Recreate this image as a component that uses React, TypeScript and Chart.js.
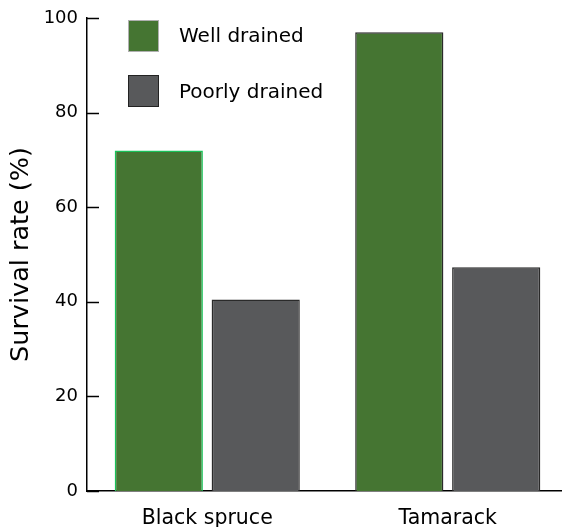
import React, { useEffect, useRef } from "react";
import { Chart, registerables } from "chart.js";
Chart.register(...registerables);

const categories = ["Black spruce", "Tamarack"];
const seriesLabels = ["Well drained", "Poorly drained"];
const wellDrained = [72, 97];
const poorlyDrained = [40.5, 47.3];
const yTickValues = [0, 20, 40, 60, 80, 100];

const FONT = "'DejaVu Sans', sans-serif";
const GREEN = "#457532";
const GRAY = "#58595b";

const insideTicks = {
  id: "insideTicks",
  afterDatasetsDraw(chart: any) {
    const y = chart.scales.y;
    const ctx = chart.ctx;
    const left = chart.chartArea.left;
    ctx.save();
    ctx.strokeStyle = "#000";
    ctx.lineWidth = 1.5;
    y.ticks.forEach((t: any) => {
      const py = Math.round(y.getPixelForValue(t.value)) + 0.5;
      ctx.beginPath();
      ctx.moveTo(left, py);
      ctx.lineTo(left + 12, py);
      ctx.stroke();
    });
    ctx.restore();
  },
};

const boxLegend = {
  id: "boxLegend",
  afterDraw(chart: any) {
    const ctx = chart.ctx;
    const { left, top } = chart.chartArea;
    const strokes = ["#b0b0b0", "#222"];
    ctx.save();
    chart.data.datasets.forEach((ds: any, i: number) => {
      const bx = left + 41;
      const by = top + 2 + i * 55;
      ctx.fillStyle = ds.backgroundColor;
      ctx.fillRect(bx, by, 30, 31);
      ctx.strokeStyle = strokes[i];
      ctx.lineWidth = 1;
      ctx.strokeRect(bx + 0.5, by + 0.5, 30, 31);
      ctx.fillStyle = "#000";
      ctx.font = `20px ${FONT}`;
      ctx.textBaseline = "middle";
      ctx.textAlign = "left";
      ctx.fillText(ds.label, bx + 51, by + 17 + i);
    });
    ctx.restore();
  },
};

export default function App() {
  const ref = useRef<HTMLCanvasElement>(null);
  useEffect(() => {
    const chart = new Chart(ref.current!, {
      type: "bar",
      data: {
        labels: categories,
        datasets: [
          {
            label: seriesLabels[0],
            data: wellDrained,
            backgroundColor: GREEN,
            borderColor: ["#19c35a", "#2a2a2a"],
            borderWidth: 1.5,
          },
          {
            label: seriesLabels[1],
            data: poorlyDrained,
            backgroundColor: GRAY,
            borderColor: "#2a2a2a",
            borderWidth: 1.5,
          },
        ],
      },
      options: {
        responsive: true,
        maintainAspectRatio: false,
        animation: false,
        layout: { padding: { top: 18, right: 0, bottom: 0, left: 0 } },
        plugins: { legend: { display: false }, tooltip: { enabled: false } },
        datasets: { bar: { categoryPercentage: 0.806, barPercentage: 0.91 } },
        scales: {
          x: {
            z: 1,
            grid: { display: false, drawTicks: false },
            border: { display: true, color: "#000", width: 1.5 },
            ticks: { color: "#000", font: { family: FONT, size: 20.5 }, padding: 15 },
            afterFit: (s: any) => { s.height = 36; },
          },
          y: {
            z: 1,
            min: 0,
            max: 100,
            grid: { display: false, drawTicks: false },
            border: { display: true, color: "#000", width: 1.5 },
            afterBuildTicks: (s: any) => { s.ticks = yTickValues.map((v) => ({ value: v })); },
            ticks: { color: "#000", font: { family: FONT, size: 18 }, padding: 9 },
            title: {
              display: true,
              text: "Survival rate (%)",
              color: "#000",
              font: { family: FONT, size: 25.5 },
              padding: { top: 6, bottom: 0 },
            },
            afterFit: (s: any) => { s.width = 87; s.paddingTop = 0; s.paddingBottom = 0; },
          },
        },
      },
      plugins: [insideTicks, boxLegend],
    });
    return () => chart.destroy();
  }, []);
  return (
    <div style={{ position: "absolute", left: 0, top: 0, width: 562, height: 527, overflow: "hidden", background: "#fff" }}>
      <div style={{ position: "relative", width: 568, height: 527 }}>
        <canvas ref={ref} />
      </div>
    </div>
  );
}
